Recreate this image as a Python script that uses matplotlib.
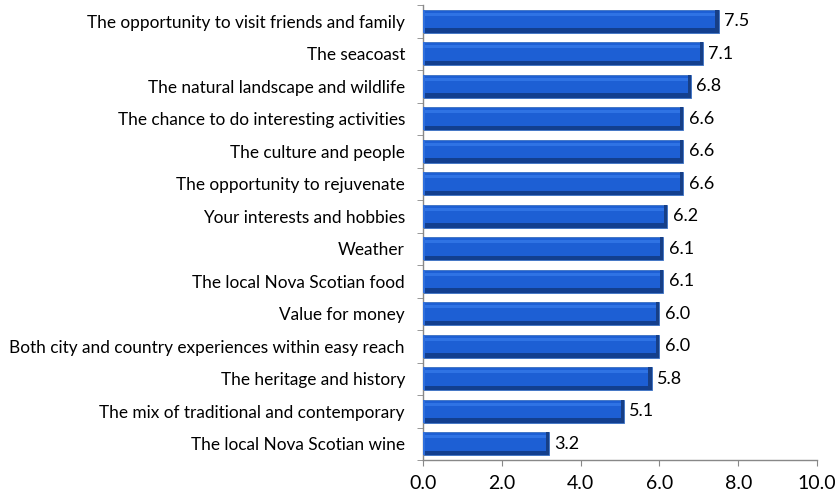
import matplotlib
matplotlib.use("Agg")
import matplotlib.pyplot as plt
import numpy as np

categories = [
    "The opportunity to visit friends and family",
    "The seacoast",
    "The natural landscape and wildlife",
    "The chance to do interesting activities",
    "The culture and people",
    "The opportunity to rejuvenate",
    "Your interests and hobbies",
    "Weather",
    "The local Nova Scotian food",
    "Value for money",
    "Both city and country experiences within easy reach",
    "The heritage and history",
    "The mix of traditional and contemporary",
    "The local Nova Scotian wine",
]
values = [7.5, 7.1, 6.8, 6.6, 6.6, 6.6, 6.2, 6.1, 6.1, 6.0, 6.0, 5.8, 5.1, 3.2]
xticks = [0, 2, 4, 6, 8, 10]

plt.rcParams['font.family'] = ['Lato', 'DejaVu Sans']

fig = plt.figure(figsize=(8.39, 4.99), dpi=100)
ax = fig.add_axes([423/839, 1-460/499, (817-423)/839, (460-5)/499])

n = len(categories)
y = np.arange(n)[::-1]
h = 0.72
vals = np.array(values)
# base bar
ax.barh(y, vals, height=h, color="#1d5fd4", edgecolor="#3a6fc0", linewidth=0.6, zorder=2)
# dark bottom bevel
ax.barh(y - h*0.40, vals, height=h*0.2, color="#123f8f", linewidth=0, zorder=3)
# light top highlight
ax.barh(y + h*0.30, vals, height=h*0.14, color="#2f73e4", linewidth=0, zorder=3)
# right-end shading
ax.barh(y, vals*0 + 0.08, left=vals - 0.08, height=h, color="#173f86", linewidth=0, zorder=4)
# left-end highlight
ax.barh(y, vals*0 + 0.06, left=vals*0, height=h, color="#2f6fdc", linewidth=0, zorder=4)

for yi, v in zip(y, values):
    ax.text(v + 0.14, yi, f"{v:.1f}", va="center", ha="left", fontsize=13, color="#000000")

ax.set_xlim(0, 10)
ax.set_ylim(-0.5, n - 0.5)
ax.set_xticks(xticks)
ax.set_xticklabels([f"{t:.1f}" for t in xticks], fontsize=14)
ax.set_yticks(y)
ax.set_yticklabels(categories, fontsize=12.4)
ax.tick_params(axis='y', length=0, pad=13)
ax.set_yticks(np.arange(-0.5, n, 1.0), minor=True)
ax.tick_params(axis='y', which='minor', length=4, color="#888888", direction='out')
ax.tick_params(axis='x', length=4, color="#888888", direction='out', pad=7)

for s in ['top', 'right']:
    ax.spines[s].set_visible(False)
for s in ['left', 'bottom']:
    ax.spines[s].set_color("#888888")
    ax.spines[s].set_linewidth(1.0)

fig.savefig("out.png", dpi=100)
